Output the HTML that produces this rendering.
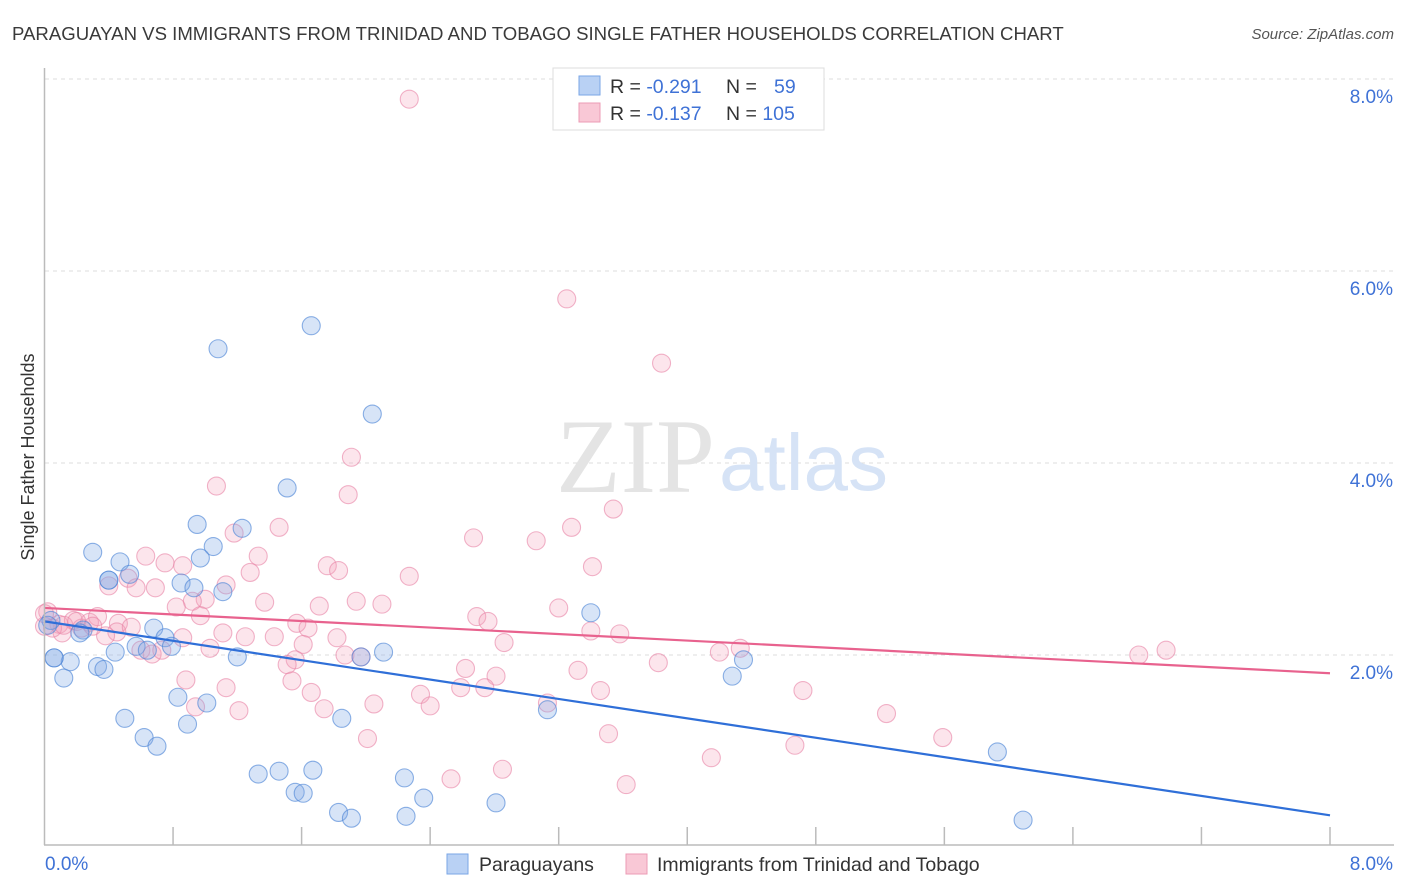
<!DOCTYPE html>
<html><head><meta charset="utf-8">
<style>
body{margin:0;background:#fff;font-family:"Liberation Sans",sans-serif;}
#wrap{position:relative;width:1406px;height:892px;overflow:hidden;}
</style></head>
<body>
<div id="wrap">
<svg id="svg" width="1406" height="892" xmlns="http://www.w3.org/2000/svg" font-family="Liberation Sans, sans-serif">
<text x="12" y="40" font-size="18.6" fill="#3a3a3a">PARAGUAYAN VS IMMIGRANTS FROM TRINIDAD AND TOBAGO SINGLE FATHER HOUSEHOLDS CORRELATION CHART</text>
<text x="1394" y="39" font-size="15" font-style="italic" fill="#555" text-anchor="end">Source: ZipAtlas.com</text>
<g id="grid"></g>
<text x="715" y="492" font-size="106" font-family="Liberation Serif, serif" fill="#e4e4e4" text-anchor="end">ZIP</text>
<text x="719" y="490" font-size="80" fill="#d6e3f6">atlas</text>
<g id="points"></g>
<g id="lines"></g>
<line x1="44.5" y1="68" x2="44.5" y2="845" stroke="#bbb" stroke-width="1.5"/>
<line x1="44" y1="845" x2="1394" y2="845" stroke="#bbb" stroke-width="1.5"/>
<g id="xticks"></g>
<text x="45" y="870" font-size="19" fill="#3f72d6">0.0%</text>
<text x="1393" y="870" font-size="19" fill="#3f72d6" text-anchor="end">8.0%</text>
<text transform="translate(34,457) rotate(-90)" font-size="18" fill="#333" text-anchor="middle">Single Father Households</text>
<g>
<rect x="553" y="68" width="271" height="62" fill="#fff" stroke="#ddd"/>
<rect x="579" y="76" width="21" height="19" fill="#b9d1f4" stroke="#7aa6e6"/>
<rect x="579" y="103" width="21" height="19" fill="#f9c8d6" stroke="#ec9bb5"/>
<text x="610" y="93" font-size="19.5" fill="#333">R = <tspan fill="#3f72d6">-0.291</tspan></text>
<text x="726" y="93" font-size="19.5" fill="#333">N = <tspan fill="#3f72d6" x="774">59</tspan></text>
<text x="610" y="120" font-size="19.5" fill="#333">R = <tspan fill="#3f72d6">-0.137</tspan></text>
<text x="726" y="120" font-size="19.5" fill="#333">N = <tspan fill="#3f72d6">105</tspan></text>
</g>
<g>
<rect x="447" y="854" width="21" height="20" fill="#b9d1f4" stroke="#7aa6e6"/>
<text x="479" y="871" font-size="19.5" fill="#333">Paraguayans</text>
<rect x="626" y="854" width="21" height="20" fill="#f9c8d6" stroke="#ec9bb5"/>
<text x="657" y="871" font-size="19.5" fill="#333">Immigrants from Trinidad and Tobago</text>
</g>
</svg>
</div>
<script>
const yTicks=[2,4,6,8];
const yTickLabels=["2.0%","4.0%","6.0%","8.0%"];
const xTickVals=[0,0.8,1.6,2.4,3.2,4.0,4.8,5.6,6.4,7.2,8.0];
const blueX=[1.66,1.08,2.04,1.51,0.95,1.23,1.05,0.30,0.97,0.47,0.53,0.40,0.85,0.93,1.11,3.40,0.04,0.02,0.24,0.22,0.68,0.75,0.57,0.79,0.64,0.44,2.11,1.20,1.97,4.35,0.06,0.16,0.33,0.37,0.12,4.28,0.83,1.01,3.13,0.50,1.85,0.89,0.62,0.70,5.93,1.33,1.46,1.67,2.24,1.56,1.61,2.36,2.81,1.83,1.91,2.25,6.09,0.06,0.40];
const blueY=[5.43,5.19,4.51,3.74,3.36,3.32,3.13,3.07,3.01,2.97,2.84,2.78,2.75,2.70,2.66,2.44,2.36,2.31,2.26,2.23,2.28,2.18,2.09,2.09,2.05,2.03,2.03,1.98,1.98,1.95,1.97,1.93,1.88,1.85,1.76,1.78,1.56,1.50,1.43,1.34,1.34,1.28,1.14,1.05,0.99,0.76,0.79,0.80,0.72,0.57,0.56,0.51,0.46,0.36,0.30,0.32,0.28,1.97,2.78];
const pinkX=[2.27,3.25,3.84,1.91,1.07,1.89,3.54,1.46,3.28,1.18,2.67,3.06,0.63,1.33,0.75,0.86,3.41,1.76,1.83,2.27,1.28,1.13,0.52,0.40,0.69,0.57,1.00,0.92,1.94,2.10,1.37,1.71,0.82,3.20,0.97,0.46,2.69,2.76,1.57,0.02,0.09,0.18,0.28,0.33,0.23,0.45,0.54,0.11,1.11,1.43,1.25,3.40,3.58,1.64,1.82,0.86,2.86,0.38,0.60,0.67,0.73,1.03,1.61,1.87,1.97,4.20,4.33,6.81,6.98,3.82,1.56,2.62,3.32,1.51,2.81,1.54,0.88,2.59,2.74,3.46,4.72,1.13,1.66,2.34,3.13,2.05,2.40,0.94,1.21,1.74,5.24,3.51,2.01,5.59,4.67,4.15,2.85,2.53,3.62,0.0,0.0,0.05,0.12,0.2,0.3];
const pinkY=[7.79,5.71,5.04,4.06,3.76,3.67,3.52,3.33,3.33,3.27,3.22,3.19,3.03,3.03,2.96,2.93,2.92,2.93,2.88,2.82,2.86,2.73,2.80,2.72,2.70,2.70,2.58,2.56,2.56,2.53,2.55,2.51,2.50,2.49,2.41,2.33,2.40,2.35,2.33,2.45,2.32,2.36,2.34,2.40,2.28,2.24,2.29,2.23,2.23,2.19,2.19,2.25,2.22,2.28,2.18,2.18,2.13,2.20,2.05,2.01,2.05,2.07,2.11,2.00,1.98,2.03,2.07,2.00,2.05,1.92,1.95,1.86,1.84,1.90,1.78,1.73,1.74,1.66,1.66,1.63,1.63,1.66,1.61,1.59,1.50,1.49,1.47,1.46,1.42,1.44,1.39,1.18,1.13,1.14,1.06,0.93,0.81,0.71,0.65,2.43,2.30,2.28,2.31,2.35,2.30];
const blueTrend=[2.35,0.33];
const pinkTrend=[2.49,1.81];
const X0=44.5,X1=1330,YB=847,PY=96;
const sx=v=>X0+v/8*(X1-X0);
const sy=v=>YB-v*PY;
const NS="http://www.w3.org/2000/svg";
function mk(tag,attrs,parent){const e=document.createElementNS(NS,tag);for(const k in attrs)e.setAttribute(k,attrs[k]);parent.appendChild(e);return e;}
const grid=document.getElementById('grid');
yTicks.forEach((t,i)=>{
 const l=mk('line',{x1:45,x2:1394,y1:sy(t),y2:sy(t),stroke:'#ddd','stroke-dasharray':'4,4'},grid);
 
 
 const tx=mk('text',{x:1393,y:sy(t)+24,'font-size':19,fill:'#3f72d6','text-anchor':'end'},grid);
 tx.textContent=yTickLabels[i];
 
 
});
const xt=document.getElementById('xticks');
xTickVals.forEach(v=>{
 if(v===0)return;
 const l=mk('line',{x1:sx(v),x2:sx(v),y1:827,y2:845,stroke:'#bbb','stroke-width':1.5},xt);
 
 
});
const pts=document.getElementById('points');
function drawPts(xs,ys,fill,stroke,name){
 xs.forEach((x,i)=>{
  const c=mk('circle',{cx:sx(x),cy:sy(ys[i]),r:9,fill:fill,stroke:stroke,'stroke-width':1.1},pts);
  
  
 });
}
drawPts(pinkX,pinkY,'rgba(244,160,188,0.28)','rgba(232,130,165,0.6)','point-trinidad');
drawPts(blueX,blueY,'rgba(130,170,230,0.32)','rgba(80,135,215,0.65)','point-paraguayan');
const lines=document.getElementById('lines');
const bl=mk('line',{x1:sx(0),y1:sy(blueTrend[0]),x2:sx(8),y2:sy(blueTrend[1]),stroke:'#2f6fd8','stroke-width':2.2},lines);


const pl=mk('line',{x1:sx(0),y1:sy(pinkTrend[0]),x2:sx(8),y2:sy(pinkTrend[1]),stroke:'#e8628e','stroke-width':2.2},lines);


</script>
</body></html>
